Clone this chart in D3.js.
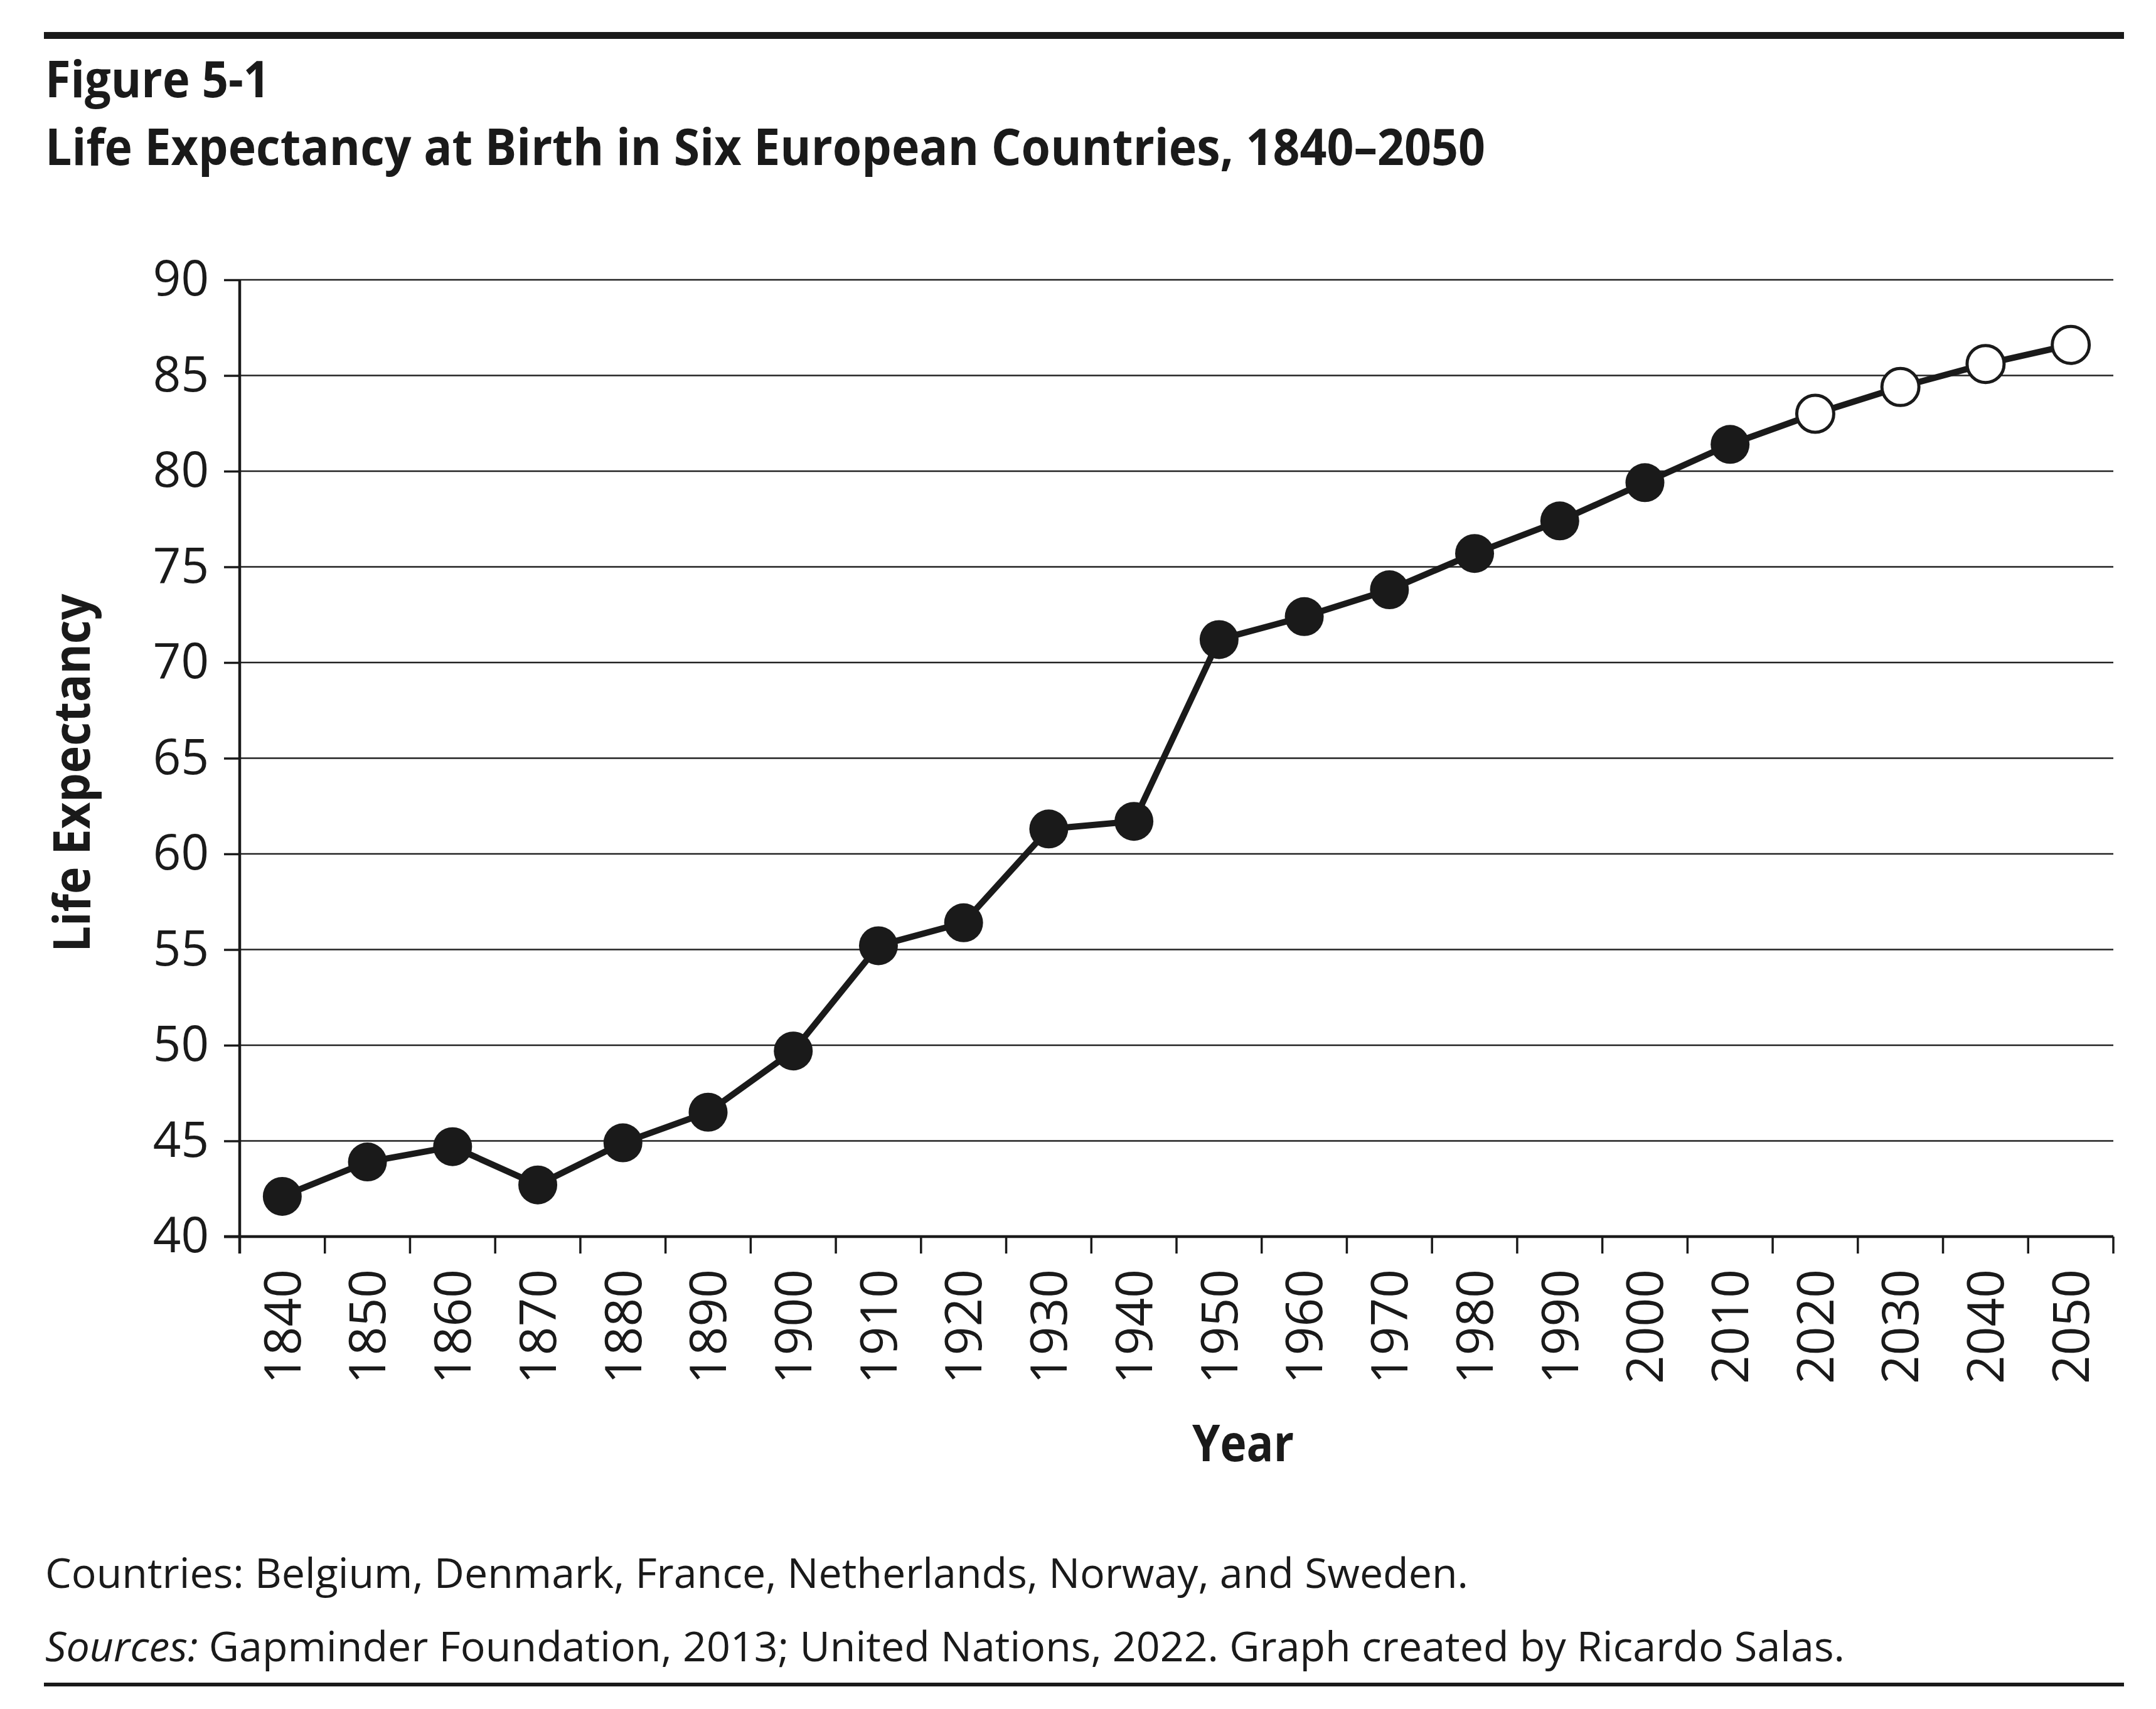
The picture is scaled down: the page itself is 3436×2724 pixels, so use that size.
<!DOCTYPE html>
<html>
<head>
<meta charset="utf-8">
<script src="https://cdn.jsdelivr.net/npm/d3@7"></script>
<style>
  body { margin: 0; background: #fff; }
  svg { display: block; }
  text { fill: #1a1a1a; font-family: "Open Sans", "Noto Sans", sans-serif; }
</style>
</head>
<body>
<svg width="3436" height="2724"></svg>
<script>
const years = [1840, 1850, 1860, 1870, 1880, 1890, 1900, 1910, 1920, 1930, 1940,
               1950, 1960, 1970, 1980, 1990, 2000, 2010, 2020, 2030, 2040, 2050];
const lifeExp = [42.1, 43.9, 44.7, 42.7, 44.9, 46.5, 49.7, 55.2, 56.4, 61.3, 61.7,
                 71.2, 72.4, 73.8, 75.7, 77.4, 79.4, 81.4, 83.0, 84.4, 85.6, 86.6];
// projections start in 2020 (drawn as open circles)
const projected = [false, false, false, false, false, false, false, false, false, false, false,
                   false, false, false, false, false, false, false, true, true, true, true];
const yTicks = [40, 45, 50, 55, 60, 65, 70, 75, 80, 85, 90];

const ink = "#1a1a1a";
const margin = { top: 446, right: 68, bottom: 753, left: 382 };
const W = 3436, H = 2724;
const width = W - margin.left - margin.right;
const height = H - margin.top - margin.bottom;

const svg = d3.select("svg");
const data = years.map((yr, i) => ({ year: yr, value: lifeExp[i], proj: projected[i] }));

// header rule and titles
svg.append("rect").attr("x", 70).attr("y", 51).attr("width", 3315).attr("height", 11).attr("fill", ink);
svg.append("text").attr("x", 72).attr("y", 155)
    .attr("font-size", 80).attr("font-weight", 700)
    .attr("textLength", 358).attr("lengthAdjust", "spacingAndGlyphs")
    .text("Figure 5-1");
svg.append("text").attr("x", 72).attr("y", 263)
    .attr("font-size", 80).attr("font-weight", 700)
    .attr("textLength", 2295).attr("lengthAdjust", "spacingAndGlyphs")
    .text("Life Expectancy at Birth in Six European Countries, 1840\u20132050");

const g = svg.append("g").attr("transform", `translate(${margin.left},${margin.top})`);

const x = d3.scaleBand().domain(years).range([0, width]).padding(0);
const y = d3.scaleLinear().domain([40, 90]).range([height, 0]);

// horizontal gridlines
g.append("g")
    .selectAll("line")
    .data(yTicks.filter(t => t > 40))
    .enter().append("line")
    .attr("x1", 0).attr("x2", width)
    .attr("y1", d => y(d)).attr("y2", d => y(d))
    .attr("stroke", "#222").attr("stroke-width", 2.5);

// y axis
const yAxis = g.append("g")
    .call(d3.axisLeft(y).tickValues(yTicks).tickSize(25).tickPadding(24).tickSizeOuter(0));
yAxis.select(".domain").remove();
yAxis.selectAll(".tick line").attr("stroke", ink).attr("stroke-width", 3.5);
yAxis.selectAll(".tick text")
    .attr("font-size", 78).attr("fill", ink)
    .style("font-family", "'Open Sans', sans-serif");

// x axis: labels at band centres, ticks at band edges
const xAxis = g.append("g")
    .attr("transform", `translate(0,${height})`)
    .call(d3.axisBottom(x).tickSize(0).tickPadding(0));
xAxis.select(".domain").remove();
xAxis.selectAll(".tick text")
    .attr("font-size", 80).attr("fill", ink)
    .style("font-family", "'Open Sans', sans-serif")
    .attr("transform", "rotate(-90)")
    .attr("x", -52).attr("y", 0).attr("dy", "0.36em")
    .style("text-anchor", "end");

const edges = years.map(d => x(d)).concat([width]);
g.append("g")
    .selectAll("line")
    .data(edges.slice(1))
    .enter().append("line")
    .attr("x1", d => d).attr("x2", d => d)
    .attr("y1", height).attr("y2", height + 27)
    .attr("stroke", ink).attr("stroke-width", 3.5);

// axis lines
g.append("line").attr("x1", 0).attr("x2", 0).attr("y1", 0).attr("y2", height + 27)
    .attr("stroke", ink).attr("stroke-width", 4.5);
g.append("line").attr("x1", -25).attr("x2", width).attr("y1", height).attr("y2", height)
    .attr("stroke", ink).attr("stroke-width", 4.5);

// series line
const line = d3.line()
    .x(d => x(d.year) + x.bandwidth() / 2)
    .y(d => y(d.value));
g.append("path").datum(data)
    .attr("d", line)
    .attr("fill", "none").attr("stroke", ink).attr("stroke-width", 10)
    .attr("stroke-linejoin", "round");

// markers
g.selectAll(".pt")
    .data(data)
    .enter().append("circle")
    .attr("class", "pt")
    .attr("cx", d => x(d.year) + x.bandwidth() / 2)
    .attr("cy", d => y(d.value))
    .attr("r", d => d.proj ? 29.5 : 31)
    .attr("fill", d => d.proj ? "#fff" : ink)
    .attr("stroke", ink)
    .attr("stroke-width", d => d.proj ? 5 : 0);

// axis titles
svg.append("text")
    .attr("transform", "translate(143,1232) rotate(-90)")
    .attr("text-anchor", "middle")
    .attr("font-size", 80).attr("font-weight", 700)
    .attr("textLength", 571).attr("lengthAdjust", "spacingAndGlyphs")
    .text("Life Expectancy");
svg.append("text")
    .attr("x", 1900).attr("y", 2329)
    .attr("font-size", 80).attr("font-weight", 700)
    .attr("textLength", 162).attr("lengthAdjust", "spacingAndGlyphs")
    .text("Year");

// notes
svg.append("text").attr("x", 72).attr("y", 2531)
    .attr("font-size", 66)
    .attr("textLength", 2268).attr("lengthAdjust", "spacingAndGlyphs")
    .text("Countries: Belgium, Denmark, France, Netherlands, Norway, and Sweden.");
const src = svg.append("text").attr("x", 72).attr("y", 2648)
    .attr("font-size", 66)
    .attr("textLength", 2868).attr("lengthAdjust", "spacingAndGlyphs");
src.append("tspan").attr("font-style", "italic").text("Sources:");
src.append("tspan").text(" Gapminder Foundation, 2013; United Nations, 2022. Graph created by Ricardo Salas.");

svg.append("rect").attr("x", 70).attr("y", 2682).attr("width", 3315).attr("height", 6).attr("fill", ink);
</script>
</body>
</html>
